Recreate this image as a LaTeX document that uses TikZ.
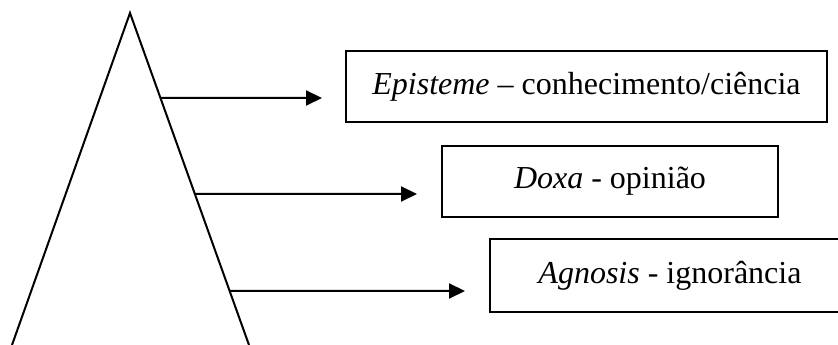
\documentclass[tikz,border=0pt]{standalone}
\usepackage{fontspec}
\setmainfont{Liberation Serif}
\usetikzlibrary{arrows.meta,calc}

\begin{document}
\begin{tikzpicture}[x=1pt,y=-1pt,line width=2pt,box/.style={draw,line width=2pt,inner sep=0pt,font=\fontsize{32}{38}\selectfont},arr/.style={-{Triangle[length=16pt,width=15pt]},line width=2pt}]
\useasboundingbox (0,0) rectangle (838,345);
\clip (0,0) rectangle (838,345);
\coordinate (apex) at (130,13);\coordinate (lfoot) at (12,345);\coordinate (rfoot) at (249,345);
\draw (lfoot)--(apex)--(rfoot);
\node[box,minimum width=481pt,minimum height=71pt] (episteme) at (586.5,86.5) {\textit{Episteme} – conhecimento/ciência};
\node[box,minimum width=336pt,minimum height=71pt] (doxa) at (610,181.5) {\textit{Doxa} - opinião};
\node[box,minimum width=360pt,minimum height=73pt] (agnosis) at (670,275.5) {\textit{Agnosis} - ignorância};
\coordinate (s1) at ($(apex)!0.256!(rfoot)$);\coordinate (e1) at (322,98);
\coordinate (s2) at ($(apex)!0.545!(rfoot)$);\coordinate (e2) at (417,194);
\coordinate (s3) at ($(apex)!0.837!(rfoot)$);\coordinate (e3) at (465,291);
\draw[arr] (s1)--(e1);\draw[arr] (s2)--(e2);\draw[arr] (s3)--(e3);
\end{tikzpicture}
\end{document}
